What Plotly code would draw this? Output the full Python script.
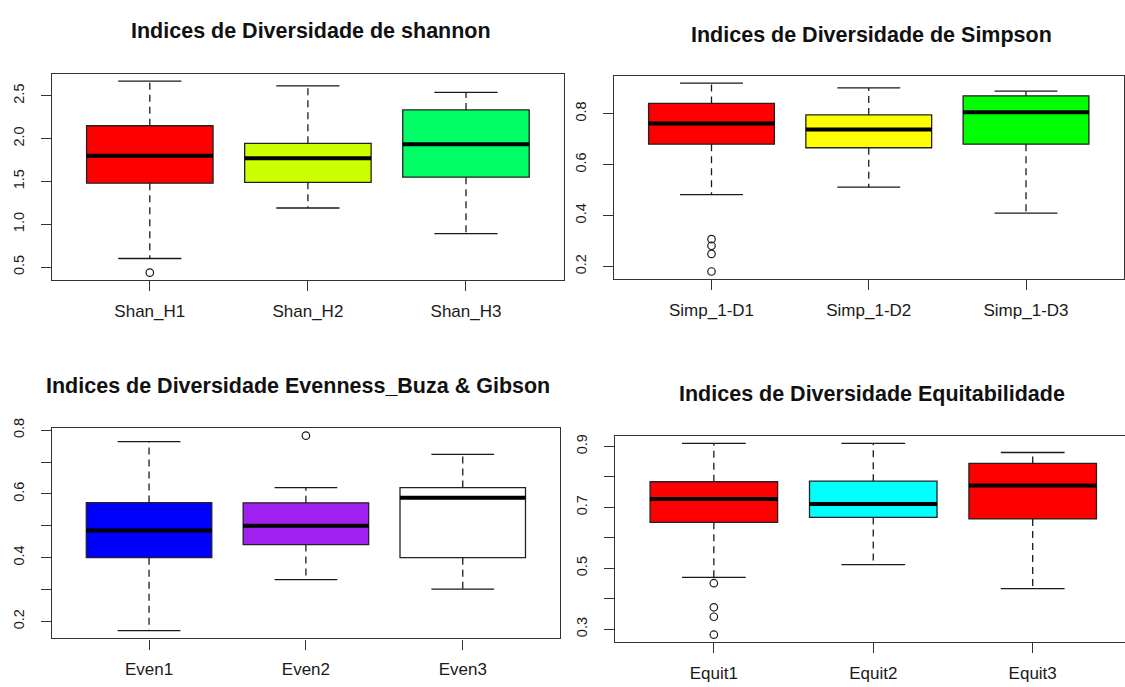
import plotly.graph_objects as go

# ---------------- data ----------------
shan_labels = ["Shan_H1", "Shan_H2", "Shan_H3"]
shan_lower = [0.60, 1.19, 0.89]
shan_q1 = [1.48, 1.49, 1.55]
shan_med = [1.80, 1.77, 1.935]
shan_q3 = [2.15, 1.945, 2.335]
shan_upper = [2.67, 2.615, 2.54]
shan_out = [[0.435], [], []]
shan_colors = ["#FF0000", "#CCFF00", "#00FF66"]

simp_labels = ["Simp_1-D1", "Simp_1-D2", "Simp_1-D3"]
simp_lower = [0.482, 0.511, 0.409]
simp_q1 = [0.680, 0.666, 0.680]
simp_med = [0.761, 0.738, 0.805]
simp_q3 = [0.840, 0.795, 0.870]
simp_upper = [0.920, 0.901, 0.888]
simp_out = [[0.307, 0.281, 0.249, 0.180], [], []]
simp_colors = ["#FF0000", "#FFFF00", "#00FF00"]

even_labels = ["Even1", "Even2", "Even3"]
even_lower = [0.171, 0.331, 0.301]
even_q1 = [0.400, 0.441, 0.400]
even_med = [0.485, 0.500, 0.588]
even_q3 = [0.573, 0.572, 0.620]
even_upper = [0.764, 0.620, 0.724]
even_out = [[], [0.783], []]
even_colors = ["#0000FF", "#A020F0", "#FFFFFF"]

equit_labels = ["Equit1", "Equit2", "Equit3"]
equit_lower = [0.470, 0.512, 0.433]
equit_q1 = [0.651, 0.667, 0.662]
equit_med = [0.727, 0.711, 0.772]
equit_q3 = [0.784, 0.786, 0.844]
equit_upper = [0.910, 0.910, 0.880]
equit_out = [[0.451, 0.372, 0.341, 0.282], [], []]
equit_colors = ["#FF0000", "#00FFFF", "#FF0000"]

titles = [
    "Indices de Diversidade de shannon",
    "Indices de Diversidade de Simpson",
    "Indices de Diversidade Evenness_Buza & Gibson",
    "Indices de Diversidade Equitabilidade",
]

shan_ticks = [0.5, 1.0, 1.5, 2.0, 2.5]
shan_ticktext = ["0.5", "1.0", "1.5", "2.0", "2.5"]
simp_ticks = [0.2, 0.4, 0.6, 0.8]
simp_ticktext = ["0.2", "0.4", "0.6", "0.8"]
even_ticks = [0.2, 0.3, 0.4, 0.5, 0.6, 0.7, 0.8]
even_ticktext = ["0.2", "", "0.4", "", "0.6", "", "0.8"]
equit_ticks = [0.3, 0.4, 0.5, 0.6, 0.7, 0.8, 0.9]
equit_ticktext = ["0.3", "", "0.5", "", "0.7", "", "0.9"]

# ---------------- layout geometry (pixels of a 1125x687 canvas) ----------------
W, H = 1125, 687
panels = [
    dict(px=(51.8, 564.0), py=(64.5, 274.3), xr=(-0.62, 2.62), mirror_y=True,
         title_xy=(311, 21.5)),
    dict(px=(614.0, 1123.5), py=(66.5, 273.0), xr=(-0.62, 2.62), mirror_y=True,
         title_xy=(871, 25)),
    dict(px=(51.8, 560.0), py=(424.0, 637.7), xr=(-0.62, 2.62), mirror_y=True,
         title_xy=(298, 382)),
    dict(px=(615.0, 1125.0), py=(432.0, 641.7), xr=(-0.62, 2.579), mirror_y=False,
         title_xy=(872, 390)),
]

datasets = [
    (shan_labels, shan_lower, shan_q1, shan_med, shan_q3, shan_upper, shan_out, shan_colors,
     shan_ticks, shan_ticktext),
    (simp_labels, simp_lower, simp_q1, simp_med, simp_q3, simp_upper, simp_out, simp_colors,
     simp_ticks, simp_ticktext),
    (even_labels, even_lower, even_q1, even_med, even_q3, even_upper, even_out, even_colors,
     even_ticks, even_ticktext),
    (equit_labels, equit_lower, equit_q1, equit_med, equit_q3, equit_upper, equit_out, equit_colors,
     equit_ticks, equit_ticktext),
]

FONT = "Liberation Sans, Arial, sans-serif"
INK = "#1a1a1a"
BOXW = 0.8
CAPW = 0.4

fig = go.Figure()
layout_axes = {}
annotations = []

for k, (p, d) in enumerate(zip(panels, datasets)):
    labels, lower, q1, med, q3, upper, outs, colors, yt, ytt = d
    xa = "x" if k == 0 else f"x{k+1}"
    ya = "y" if k == 0 else f"y{k+1}"
    n = len(labels)
    pos = list(range(n))

    # dashed whiskers
    wx, wy = [], []
    for i in pos:
        wx += [i, i, None, i, i, None]
        wy += [q3[i], upper[i], None, q1[i], lower[i], None]
    fig.add_trace(go.Scatter(x=wx, y=wy, mode="lines", xaxis=xa, yaxis=ya,
                             line=dict(color=INK, width=1.3, dash="7px,5px"),
                             hoverinfo="skip", showlegend=False))
    # staples
    sx, sy = [], []
    for i in pos:
        sx += [i - CAPW / 2, i + CAPW / 2, None, i - CAPW / 2, i + CAPW / 2, None]
        sy += [upper[i], upper[i], None, lower[i], lower[i], None]
    fig.add_trace(go.Scatter(x=sx, y=sy, mode="lines", xaxis=xa, yaxis=ya,
                             line=dict(color=INK, width=1.3),
                             hoverinfo="skip", showlegend=False))
    # boxes
    for i in pos:
        fig.add_trace(go.Box(x=[i], q1=[q1[i]], median=[med[i]], q3=[q3[i]],
                             lowerfence=[q1[i]], upperfence=[q3[i]],
                             width=BOXW, fillcolor=colors[i],
                             line=dict(color="#222222", width=1.3),
                             boxpoints=False, xaxis=xa, yaxis=ya,
                             showlegend=False, hoverinfo="skip"))
    # medians (thick)
    mx, my = [], []
    for i in pos:
        mx += [i - BOXW / 2, i + BOXW / 2, None]
        my += [med[i], med[i], None]
    fig.add_trace(go.Scatter(x=mx, y=my, mode="lines", xaxis=xa, yaxis=ya,
                             line=dict(color="#000000", width=4),
                             hoverinfo="skip", showlegend=False))
    # outliers
    ox, oy = [], []
    for i in pos:
        for v in outs[i]:
            ox.append(i)
            oy.append(v)
    if ox:
        fig.add_trace(go.Scatter(x=ox, y=oy, mode="markers", xaxis=xa, yaxis=ya,
                                 marker=dict(symbol="circle-open", size=7.5,
                                             color=INK, line=dict(width=1.2)),
                                 hoverinfo="skip", showlegend=False))

    # y range like R (4% padding of data span)
    allv = lower + upper + [v for o in outs for v in o]
    lo, hi = min(allv), max(allv)
    pad = 0.04 * (hi - lo)

    x0, x1 = p["px"]
    y0, y1 = p["py"]
    xkey = "xaxis" if k == 0 else f"xaxis{k+1}"
    ykey = "yaxis" if k == 0 else f"yaxis{k+1}"
    layout_axes[xkey] = dict(
        domain=[x0 / W, min(x1 / W, 1.0)], anchor=ya, range=list(p["xr"]),
        tickmode="array", tickvals=pos, ticktext=labels,
        ticks="outside", ticklen=10, tickwidth=1.2, tickcolor="#333333",
        showline=True, linecolor="#333333", linewidth=1.2, mirror=True,
        showgrid=False, zeroline=False, ticklabelstandoff=5,
        tickfont=dict(family=FONT, size=17, color=INK),
    )
    layout_axes[ykey] = dict(
        domain=[1 - y1 / H, 1 - y0 / H], anchor=xa, range=[lo - pad, hi + pad],
        tickmode="array", tickvals=yt, ticktext=ytt, tickangle=-90,
        ticks="outside", ticklen=10, tickwidth=1.2, tickcolor="#333333",
        showline=True, linecolor="#333333", linewidth=1.2, mirror=p["mirror_y"],
        showgrid=False, zeroline=False, ticklabelstandoff=11,
        tickfont=dict(family=FONT, size=14.5, color=INK),
    )
    tx, ty = p["title_xy"]
    annotations.append(dict(text=f"<b>{titles[k]}</b>", x=tx / W, y=1 - ty / H,
                            xref="paper", yref="paper", xanchor="center", yanchor="middle",
                            showarrow=False, font=dict(family=FONT, size=21.5, color="#111111")))

fig.update_layout(
    width=W, height=H, margin=dict(l=0, r=0, t=0, b=0),
    paper_bgcolor="white", plot_bgcolor="white",
    showlegend=False, annotations=annotations, boxmode="overlay",
    **layout_axes,
)

fig.write_html(
    "out.html",
    config={"displayModeBar": False},
    post_script=(
        "document.documentElement.style.margin='0';"
        "document.body.style.margin='0';document.body.style.padding='0';"
        "document.body.style.overflow='hidden';"
        "var gd=document.getElementById('{plot_id}');"
        "gd.style.position='absolute';gd.style.top='0px';gd.style.left='0px';"
    ),
)
